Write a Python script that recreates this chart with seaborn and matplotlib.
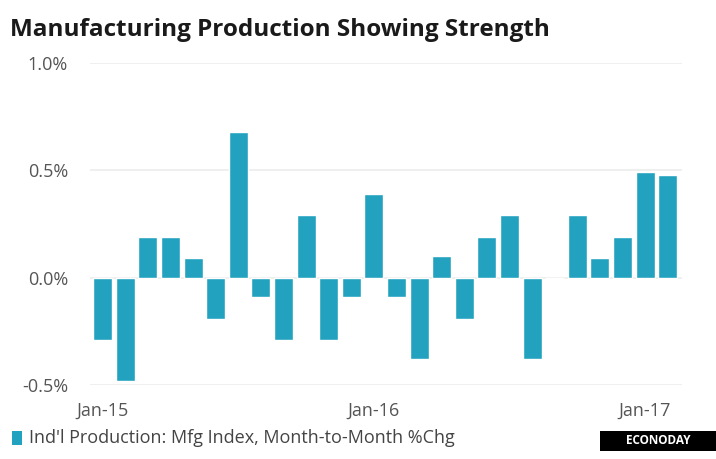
import matplotlib
matplotlib.use("Agg")
import matplotlib.pyplot as plt
import seaborn as sns
import pandas as pd

months = ["Jan-15","Feb-15","Mar-15","Apr-15","May-15","Jun-15","Jul-15","Aug-15","Sep-15","Oct-15","Nov-15","Dec-15",
          "Jan-16","Feb-16","Mar-16","Apr-16","May-16","Jun-16","Jul-16","Aug-16","Sep-16","Oct-16","Nov-16","Dec-16",
          "Jan-17","Feb-17"]
values = [-0.29, -0.48, 0.19, 0.19, 0.09, -0.19, 0.68, -0.09, -0.29, 0.29, -0.29, -0.09,
          0.39, -0.09, -0.38, 0.10, -0.19, 0.19, 0.29, -0.38, 0.0, 0.29, 0.09, 0.19,
          0.49, 0.48]
tick_labels = ["Jan-15", "Jan-16", "Jan-17"]
y_ticks = [-0.5, 0.0, 0.5, 1.0]
y_tick_labels = ["-0.5%", "0.0%", "0.5%", "1.0%"]
title = "Manufacturing Production Showing Strength"
legend_label = "Ind'l Production: Mfg Index, Month-to-Month %Chg"

df = pd.DataFrame({"month": months, "value": values})

sns.set_style("white")
plt.rcParams["font.family"] = ["Open Sans", "DejaVu Sans"]

fig = plt.figure(figsize=(7.16, 4.59), dpi=100)
ax = fig.add_axes([0.126, 0.161, 0.827, 0.702])

bar_color = "#22a2bf"
sns.barplot(data=df, x="month", y="value", order=months, color=bar_color,
            width=0.84, saturation=1, ax=ax, zorder=3)

ax.set_ylim(-0.5, 1.0)
ax.set_xlim(-0.55, 25.65)
ax.set_yticks(y_ticks)
ax.set_yticklabels(y_tick_labels)
ax.set_xticks([months.index(t) for t in tick_labels])
ax.set_xticklabels(tick_labels)
ax.set_xlabel("")
ax.set_ylabel("")
for s in ax.spines.values():
    s.set_visible(False)
ax.grid(axis="y", color="#ececec", linewidth=1.2, zorder=0)
ax.tick_params(axis="both", length=0, labelsize=13, labelcolor="#555555")
ax.tick_params(axis="y", pad=16)
ax.tick_params(axis="x", pad=12)

fig.text(0.014, 0.935, title, fontsize=17.5, fontweight="bold", color="#1a1a1a", va="center", ha="left")

# legend
fig.patches.append(plt.Rectangle((0.017, 0.030), 0.014, 0.030, transform=fig.transFigure,
                                 facecolor=bar_color, edgecolor="none"))
fig.text(0.040, 0.045, legend_label, fontsize=13, color="#444444", va="center", ha="left")

# logo
fig.patches.append(plt.Rectangle((0.838, 0.018), 0.165, 0.044, transform=fig.transFigure,
                                 facecolor="black", edgecolor="none"))
fig.text(0.920, 0.040, "ECONODAY", fontsize=8.5, fontweight="bold", color="white", va="center", ha="center")

fig.savefig("out.png", dpi=100)
